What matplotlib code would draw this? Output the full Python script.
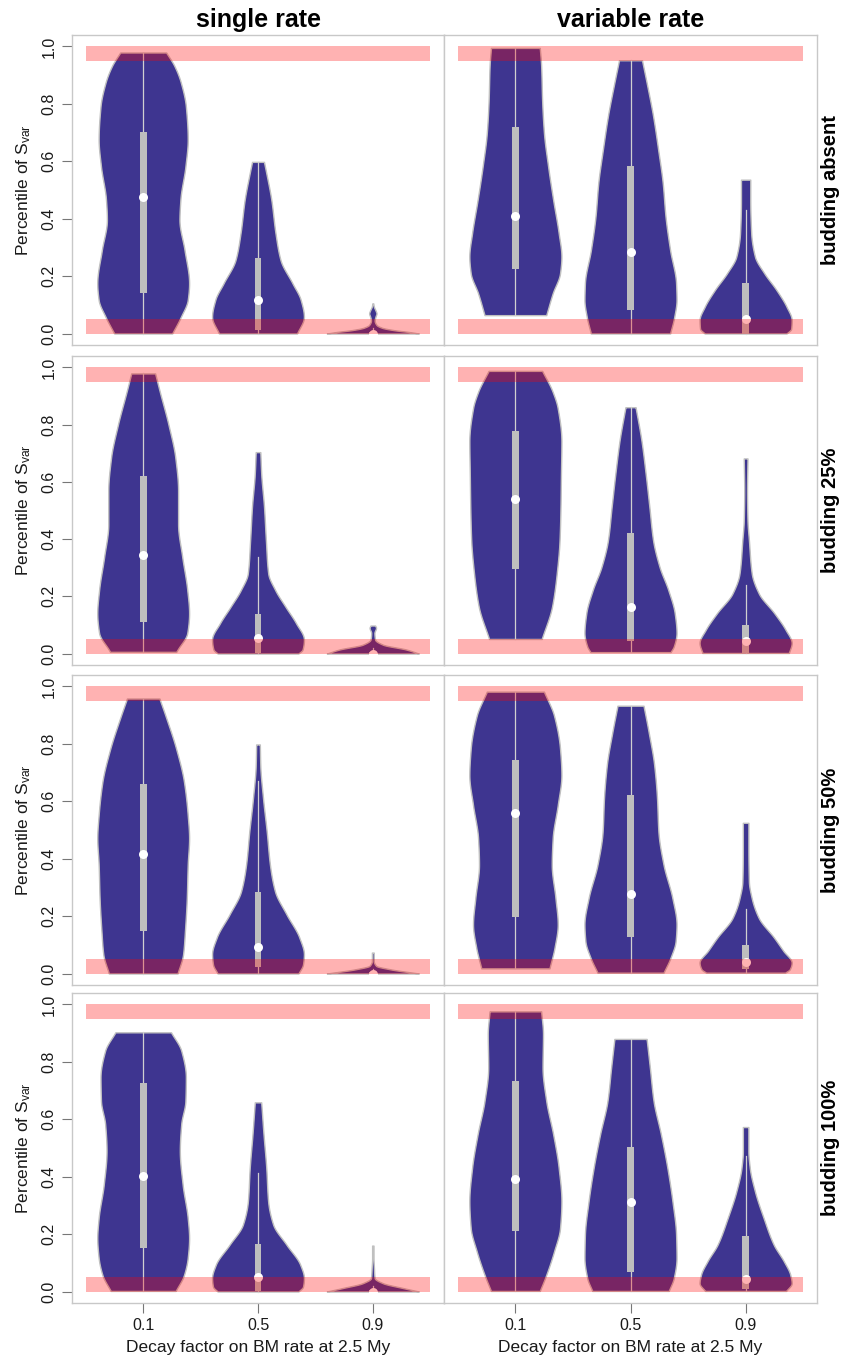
import numpy as np
import matplotlib.pyplot as plt

plt.rcParams['font.family'] = ['Liberation Sans', 'DejaVu Sans']

decay = ['0.1', '0.5', '0.9']
col_titles = ['single rate', 'variable rate']
row_titles = ['budding absent', 'budding 25%', 'budding 50%', 'budding 100%']

# violin outlines: y levels and relative density (max ~ 1)
single_absent_y = [[0.0, 0.058, 0.117, 0.175, 0.291, 0.396, 0.466, 0.583, 0.676, 0.79, 0.874, 0.932, 0.979],
                   [0.0, 0.058, 0.117, 0.175, 0.256, 0.35, 0.466, 0.559, 0.598],
                   [0.0, 0.005, 0.012, 0.02, 0.03, 0.045, 0.06, 0.07, 0.08, 0.095, 0.105]]
single_absent_w = [[0.63, 0.82, 0.97, 1.0, 0.9, 0.79, 0.81, 0.92, 0.97, 0.93, 0.82, 0.68, 0.5],
                   [0.85, 1.0, 0.93, 0.75, 0.49, 0.38, 0.29, 0.18, 0.13],
                   [1.0, 0.8, 0.45, 0.2, 0.08, 0.04, 0.06, 0.08, 0.06, 0.02, 0.01]]
var_absent_y = [[0.064, 0.14, 0.21, 0.268, 0.35, 0.466, 0.583, 0.7, 0.816, 0.932, 0.995],
                [0.0, 0.058, 0.117, 0.175, 0.291, 0.408, 0.524, 0.641, 0.758, 0.874, 0.952],
                [0.0, 0.017, 0.047, 0.093, 0.152, 0.21, 0.268, 0.35, 0.466, 0.536]]
var_absent_w = [[0.67, 0.81, 0.97, 1.0, 0.94, 0.82, 0.71, 0.62, 0.58, 0.56, 0.53],
                [0.86, 0.95, 1.0, 0.99, 0.86, 0.76, 0.7, 0.6, 0.49, 0.35, 0.25],
                [0.88, 0.98, 0.99, 0.88, 0.66, 0.4, 0.2, 0.12, 0.1, 0.1]]

single_25_y = [[0.006, 0.014, 0.072, 0.141, 0.222, 0.338, 0.453, 0.569, 0.684, 0.8, 0.916, 0.979],
               [0.0, 0.014, 0.049, 0.106, 0.164, 0.222, 0.28, 0.396, 0.512, 0.627, 0.704],
               [0.0, 0.014, 0.031, 0.049, 0.072, 0.09, 0.098]]
single_25_w = [[0.72, 0.75, 0.96, 1.0, 0.96, 0.85, 0.76, 0.76, 0.7, 0.55, 0.36, 0.26],
               [0.87, 0.96, 0.99, 0.82, 0.59, 0.37, 0.22, 0.17, 0.13, 0.07, 0.05],
               [1.0, 0.73, 0.22, 0.05, 0.035, 0.07, 0.05]]
var_25_y = [[0.051, 0.164, 0.28, 0.396, 0.512, 0.627, 0.742, 0.858, 0.916, 0.988],
            [0.005, 0.025, 0.072, 0.141, 0.222, 0.303, 0.396, 0.512, 0.627, 0.742, 0.861],
            [0.002, 0.037, 0.083, 0.141, 0.21, 0.28, 0.396, 0.465, 0.569, 0.682]]
var_25_w = [[0.56, 0.78, 0.88, 0.94, 0.96, 0.97, 0.98, 0.9, 0.79, 0.57],
            [0.87, 0.94, 1.0, 0.96, 0.82, 0.63, 0.49, 0.41, 0.33, 0.24, 0.11],
            [0.92, 0.98, 0.85, 0.61, 0.28, 0.13, 0.07, 0.04, 0.03, 0.04]]

single_50_y = [[0.0, 0.067, 0.148, 0.263, 0.379, 0.471, 0.552, 0.667, 0.783, 0.898, 0.958],
               [0.0, 0.032, 0.067, 0.125, 0.206, 0.286, 0.379, 0.494, 0.61, 0.725, 0.798],
               [0.0, 0.015, 0.027, 0.044, 0.073]]
single_50_w = [[0.74, 0.86, 0.9, 0.94, 0.96, 0.99, 0.96, 0.88, 0.71, 0.48, 0.35],
               [0.88, 0.98, 1.0, 0.9, 0.62, 0.37, 0.26, 0.19, 0.11, 0.05, 0.04],
               [1.0, 0.37, 0.07, 0.02, 0.02]]
var_50_y = [[0.018, 0.09, 0.171, 0.263, 0.379, 0.471, 0.587, 0.691, 0.783, 0.898, 0.982],
            [0.003, 0.055, 0.113, 0.171, 0.263, 0.379, 0.494, 0.61, 0.725, 0.841, 0.933],
            [0.003, 0.015, 0.038, 0.079, 0.125, 0.194, 0.263, 0.321, 0.436, 0.525]]
var_50_w = [[0.74, 0.85, 0.92, 0.87, 0.79, 0.81, 0.92, 1.0, 0.97, 0.84, 0.62],
            [0.71, 0.86, 0.97, 0.99, 0.9, 0.71, 0.6, 0.57, 0.51, 0.39, 0.28],
            [0.85, 0.95, 0.99, 0.81, 0.61, 0.28, 0.13, 0.07, 0.06, 0.06]]

single_100_y = [[0.002, 0.058, 0.117, 0.186, 0.256, 0.373, 0.49, 0.583, 0.664, 0.746, 0.839, 0.903],
                [0.0, 0.017, 0.047, 0.093, 0.163, 0.233, 0.315, 0.431, 0.548, 0.659],
                [0.0, 0.012, 0.029, 0.047, 0.082, 0.117, 0.16]]
single_100_w = [[0.7, 0.88, 0.96, 0.99, 0.96, 0.85, 0.79, 0.82, 0.91, 0.92, 0.82, 0.6],
                [0.88, 0.98, 1.0, 0.92, 0.62, 0.33, 0.22, 0.18, 0.12, 0.07],
                [1.0, 0.66, 0.22, 0.04, 0.025, 0.015, 0.015]]
var_100_y = [[0.002, 0.058, 0.14, 0.221, 0.315, 0.431, 0.548, 0.664, 0.781, 0.897, 0.976],
             [0.002, 0.047, 0.117, 0.198, 0.315, 0.431, 0.548, 0.664, 0.781, 0.88],
             [0.002, 0.029, 0.058, 0.105, 0.163, 0.256, 0.35, 0.431, 0.49, 0.573]]
var_100_w = [[0.53, 0.67, 0.84, 0.97, 1.0, 0.94, 0.82, 0.67, 0.59, 0.6, 0.56],
             [0.83, 0.94, 1.0, 0.99, 0.91, 0.8, 0.66, 0.5, 0.42, 0.35],
             [0.88, 1.0, 0.97, 0.83, 0.61, 0.39, 0.2, 0.09, 0.06, 0.06]]

# box summaries, rows = budding absent, 25%, 50%, 100%
med_single = [[0.474, 0.117, 0.0], [0.343, 0.054, 0.0], [0.417, 0.092, 0.0], [0.402, 0.05, 0.0]]
q1_single = [[0.14, 0.012, 0.0], [0.109, 0.002, 0.0], [0.148, 0.023, 0.0], [0.152, 0.002, 0.0]]
q3_single = [[0.702, 0.262, 0.006], [0.621, 0.138, 0.005], [0.662, 0.283, 0.004], [0.726, 0.167, 0.005]]
hi_single = [[0.979, 0.598, 0.02], [0.979, 0.338, 0.02], [0.958, 0.67, 0.015], [0.903, 0.414, 0.02]]
lo_single = [[0.0, 0.0, 0.0], [0.006, 0.0, 0.0], [0.0, 0.0, 0.0], [0.002, 0.0, 0.0]]

med_var = [[0.41, 0.283, 0.049], [0.539, 0.161, 0.045], [0.558, 0.277, 0.04], [0.393, 0.312, 0.043]]
q1_var = [[0.224, 0.082, 0.0], [0.296, 0.043, 0.002], [0.196, 0.128, 0.015], [0.212, 0.068, 0.009]]
q3_var = [[0.719, 0.583, 0.175], [0.779, 0.422, 0.101], [0.745, 0.621, 0.098], [0.734, 0.505, 0.192]]
hi_var = [[0.995, 0.952, 0.431], [0.988, 0.861, 0.239], [0.982, 0.933, 0.225], [0.976, 0.88, 0.472]]
lo_var = [[0.064, 0.0, 0.0], [0.051, 0.005, 0.002], [0.018, 0.003, 0.003], [0.002, 0.002, 0.002]]

shapes = [[(single_absent_y, single_absent_w), (var_absent_y, var_absent_w)],
          [(single_25_y, single_25_w), (var_25_y, var_25_w)],
          [(single_50_y, single_50_w), (var_50_y, var_50_w)],
          [(single_100_y, single_100_w), (var_100_y, var_100_w)]]
boxes = [(med_single, q1_single, q3_single, hi_single, lo_single),
         (med_var, q1_var, q3_var, hi_var, lo_var)]

violin_col = '#3e3590'
edge_col = '#c0c0c0'
band_col = (1, 0, 0, 0.3)
frame_col = '#c8c8c8'


def smooth(ys, ws, n=300):
    # monotone cubic (pchip style) through the knots, no overshoot
    ys = np.asarray(ys, float)
    ws = np.asarray(ws, float)
    h = np.diff(ys)
    d = np.diff(ws) / h
    m = np.zeros_like(ws)
    m[0], m[-1] = d[0], d[-1]
    for j in range(1, len(ws) - 1):
        if d[j - 1] * d[j] > 0:
            w1 = 2 * h[j] + h[j - 1]
            w2 = h[j] + 2 * h[j - 1]
            m[j] = (w1 + w2) / (w1 / d[j - 1] + w2 / d[j])
    yy = np.linspace(ys[0], ys[-1], n)
    i = np.clip(np.searchsorted(ys, yy) - 1, 0, len(ys) - 2)
    hh = h[i]
    t = (yy - ys[i]) / hh
    ww = ((2 * t**3 - 3 * t**2 + 1) * ws[i] + (t**3 - 2 * t**2 + t) * hh * m[i]
          + (-2 * t**3 + 3 * t**2) * ws[i + 1] + (t**3 - t**2) * hh * m[i + 1])
    return yy, np.clip(ww, 0.004, None) / ws.max()


fig = plt.figure(figsize=(8.42, 13.59), dpi=100)
W, H = 842, 1359
col_px = [(72, 444), (444, 817)]
row_px = [(35, 345), (356, 665), (675, 985), (993, 1303)]

for r, (top, bot) in enumerate(row_px):
    for c, (left, right) in enumerate(col_px):
        ax = fig.add_axes([left / W, 1 - bot / H, (right - left) / W, (bot - top) / H])
        ys_list, ws_list = shapes[r][c]
        med, q1, q3, hi, lo = boxes[c]
        for k in range(3):
            x = k + 1
            yy, ww = smooth(ys_list[k], ws_list[k])
            ax.fill_betweenx(yy, x - 0.4 * ww, x + 0.4 * ww, facecolor=violin_col,
                             edgecolor=edge_col, lw=1, zorder=2)
            ax.plot([x, x], [lo[r][k], hi[r][k]], color='#d0d0d0', lw=0.9, zorder=3)
            ax.bar(x, q3[r][k] - q1[r][k], bottom=q1[r][k], width=0.06,
                   color='#bebebe', lw=0, zorder=4)
            ax.scatter([x], [med[r][k]], s=42, color='white', lw=0, zorder=5)
        ax.fill_between([0.5, 3.5], 0, 0.05, color=band_col, lw=0, zorder=6)
        ax.fill_between([0.5, 3.5], 0.95, 1.0, color=band_col, lw=0, zorder=6)

        ax.set_xlim(0.38, 3.62)
        ax.set_ylim(-0.04, 1.04)
        for s in ax.spines.values():
            s.set_color(frame_col)
            s.set_linewidth(1)
        ax.tick_params(colors='#777777', labelcolor='#1a1a1a', length=7, width=0.8,
                       labelsize=11.5)
        if c == 0:
            ax.set_yticks([0, 0.2, 0.4, 0.6, 0.8, 1.0])
            ax.set_yticklabels(['0.0', '0.2', '0.4', '0.6', '0.8', '1.0'],
                               rotation=90, va='center')
            ax.tick_params(axis='y', pad=4)
            ax.set_ylabel(r'Percentile of $\mathregular{S_{var}}$', fontsize=12.5,
                          color='#1a1a1a')
            ax.yaxis.set_label_coords(-0.105, 0.5)
        else:
            ax.set_yticks([])
        if r == 3:
            ax.set_xticks([1, 2, 3])
            ax.set_xticklabels(decay)
            ax.tick_params(axis='x', pad=4)
            ax.set_xlabel('Decay factor on BM rate at 2.5 My', fontsize=12.5, color='#1a1a1a')
            ax.xaxis.set_label_coords(0.5, -0.118)
        else:
            ax.set_xticks([])
        if r == 0:
            ax.set_title(col_titles[c], fontsize=18, fontweight='bold', pad=6)
    fig.text(830 / W, 1 - (top + bot) / 2 / H, row_titles[r], rotation=90,
             ha='center', va='center', fontsize=14.5, fontweight='bold')

fig.savefig('out.png', dpi=100)
